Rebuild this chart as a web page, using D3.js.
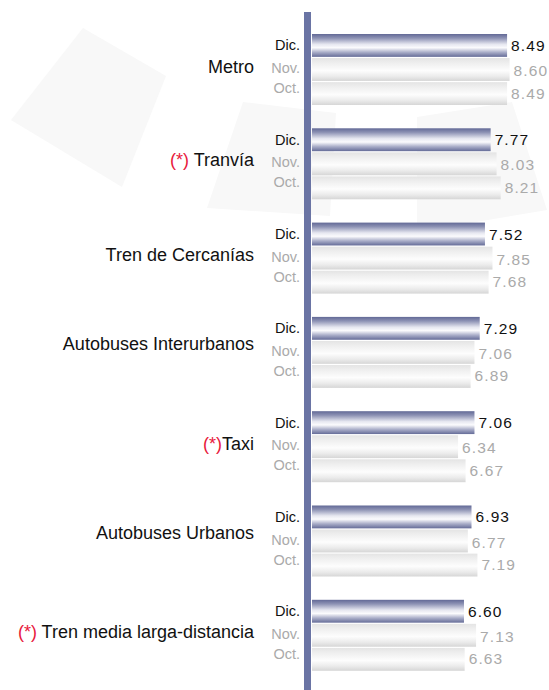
<!DOCTYPE html>
<html>
<head>
<meta charset="utf-8">
<script src="https://cdn.jsdelivr.net/npm/d3@7"></script>
<style>
  html, body { margin: 0; padding: 0; background: #ffffff; }
  svg { display: block; font-family: "Liberation Sans", Arial, sans-serif; }
</style>
</head>
<body>
<svg id="chart" width="549" height="690"></svg>
<script>
// ---- Data ----
const categories = ["Metro", "Tranvía", "Tren de Cercanías", "Autobuses Interurbanos", "Taxi", "Autobuses Urbanos", "Tren media larga-distancia"];
const starred = [false, true, false, false, true, false, true];
const starSpace = [" ", " ", " ", " ", "", " ", " "];
const months = ["Dic.", "Nov.", "Oct."];
const valuesDic = [8.49, 7.77, 7.52, 7.29, 7.06, 6.93, 6.60];
const valuesNov = [8.60, 8.03, 7.85, 7.06, 6.34, 6.77, 7.13];
const valuesOct = [8.49, 8.21, 7.68, 6.89, 6.67, 7.19, 6.63];

// layout tweak: vertical nudge of each category label (px)
const catLabelNudge = [0, -1, -1, -6, 0, -6, -1];

const series = [valuesDic, valuesNov, valuesOct];
const rows = [];
categories.forEach((c, i) => {
  months.forEach((m, j) => rows.push({ cat: c, gi: i, month: m, mi: j, value: series[j][i] }));
});

const svg = d3.select("#chart");
const W = 549, H = 690;

// ---- Background decoration (faint tilted squares) ----
const deco = [
  [[83, 28], [166, 76], [122, 187], [11, 120]],
  [[243, 102], [336, 113], [330, 216], [207, 208]],
  [[417, 117], [512, 102], [547, 210], [417, 232]]
];
svg.append("g").selectAll("path").data(deco).join("path")
  .attr("d", d => d3.line()(d) + "Z")
  .attr("fill", "#f8f8f8");

// ---- Scales ----
const x = d3.scaleLinear().domain([0, 10]).range([313.5, 541.5]);
const group = d3.scaleBand().domain(d3.range(categories.length)).range([34, 34 + 94.3 * 7]).paddingInner(0);
const inner = d3.scaleBand().domain(months).range([0, 71]).paddingInner(0.05);

const barX0 = 312;

// ---- Gradients ----
const defs = svg.append("defs");
const gDark = defs.append("linearGradient").attr("id", "gDark").attr("x1", 0).attr("y1", 0).attr("x2", 0).attr("y2", 1);
[[0, "#626996"], [0.18, "#8d92b4"], [0.45, "#e6e7f0"], [0.6, "#fbfbfd"], [0.8, "#a9adc8"], [1, "#656c98"]]
  .forEach(([o, c]) => gDark.append("stop").attr("offset", o).attr("stop-color", c));
const gLight = defs.append("linearGradient").attr("id", "gLight").attr("x1", 0).attr("y1", 0).attr("x2", 0).attr("y2", 1);
[[0, "#e4e4e4"], [0.2, "#eeeeee"], [0.55, "#fdfdfd"], [0.8, "#ebebeb"], [1, "#d6d6d6"]]
  .forEach(([o, c]) => gLight.append("stop").attr("offset", o).attr("stop-color", c));

// ---- Bars ----
const rowY = d => group(d.gi) + inner(d.month);
svg.append("g").selectAll("rect").data(rows).join("rect")
  .attr("x", barX0)
  .attr("y", rowY)
  .attr("width", d => x(d.value) - barX0)
  .attr("height", inner.bandwidth())
  .attr("fill", d => d.mi === 0 ? "url(#gDark)" : "url(#gLight)");

// ---- Axis line ----
svg.append("rect")
  .attr("x", 304).attr("y", 12).attr("width", 7).attr("height", H - 12)
  .attr("fill", "#6a74a4");

// ---- Month labels ----
const labelDy = [5, 3.5, -0.5];
const valueDy = [5.5, 6.5, 5];
svg.append("g").selectAll("text").data(rows).join("text")
  .attr("x", 300)
  .attr("y", d => rowY(d) + inner.bandwidth() / 2 + labelDy[d.mi])
  .attr("text-anchor", "end")
  .attr("font-size", "14.5px")
  .attr("fill", d => d.mi === 0 ? "#111111" : "#aaaaaa")
  .text(d => d.month);

// ---- Value labels ----
svg.append("g").selectAll("text").data(rows).join("text")
  .attr("x", d => x(d.value) + 4)
  .attr("y", d => rowY(d) + inner.bandwidth() / 2 + valueDy[d.mi])
  .attr("font-size", "15.5px")
  .attr("letter-spacing", "1.1px")
  .attr("fill", d => d.mi === 0 ? "#111111" : "#aaaaaa")
  .text(d => d3.format(".2f")(d.value));

// ---- Category labels ----
const cat = svg.append("g").selectAll("text").data(categories).join("text")
  .attr("x", 254)
  .attr("y", (d, i) => group(i) + inner("Nov.") + inner.bandwidth() / 2 + 3.5 + catLabelNudge[i])
  .attr("text-anchor", "end")
  .attr("font-size", "18px")
  .attr("fill", "#111111");
cat.each(function (d, i) {
  const t = d3.select(this);
  if (starred[i]) {
    t.append("tspan").attr("fill", "#e8193c").text("(*)");
    t.append("tspan").text(starSpace[i] + d);
  } else {
    t.append("tspan").text(d);
  }
});
</script>
</body>
</html>
